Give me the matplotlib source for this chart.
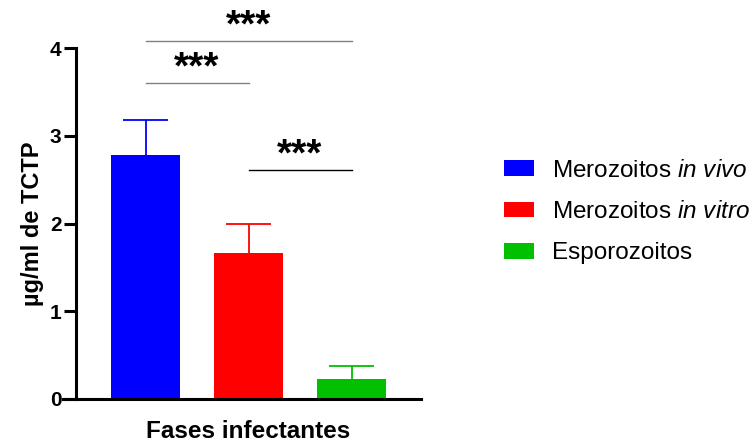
import matplotlib.pyplot as plt
from matplotlib.patches import Patch

plt.rcParams['font.family'] = ['Liberation Sans', 'DejaVu Sans']
plt.rcParams['mathtext.fontset'] = 'custom'
plt.rcParams['mathtext.rm'] = 'Liberation Sans'
plt.rcParams['mathtext.it'] = 'Liberation Sans:italic'

groups = ['Merozoitos $\\it{in\\ vivo}$', 'Merozoitos $\\it{in\\ vitro}$', 'Esporozoitos']
means = [2.78, 1.66, 0.23]
errors = [0.40, 0.34, 0.15]
colors = ['#0000FF', '#FF0000', '#00C000']

# significance brackets: (bar a, bar b, height, line colour)
comparisons = [(0, 2, 4.08, '#808080'), (0, 1, 3.60, '#808080'), (1, 2, 2.61, 'black')]
sig_label = '***'

fig = plt.figure(figsize=(7.54, 4.45), dpi=100)
ax = fig.add_axes([0.1008, 0.1034, 0.4576, 0.7881])

cap_half = 0.22
for x, (m, e, c) in enumerate(zip(means, errors, colors)):
    ax.bar(x, m, width=0.67, color=c, zorder=2)
    # upper error bar only, same colour as the bar
    ax.vlines(x, m, m + e, color=c, lw=1.3, zorder=3)
    ax.hlines(m + e, x - cap_half, x + cap_half, color=c, lw=1.3, zorder=3)

for a, b, h, col in comparisons:
    ax.plot([a, b], [h, h], color=col, lw=1.0, clip_on=False, zorder=4)
    ax.text((a + b) / 2, h + 0.05, sig_label, ha='center', va='baseline',
            fontsize=28, fontweight='bold', clip_on=False)

ax.set_ylim(0, 4)
ax.set_yticks([0, 1, 2, 3, 4])
ax.set_xticks([])
for lbl in ax.get_yticklabels():
    lbl.set_fontweight('bold')
ax.tick_params(axis='y', length=9, width=2.2, labelsize=15, pad=1.5)
ax.spines['top'].set_visible(False)
ax.spines['right'].set_visible(False)
ax.spines['left'].set_linewidth(2.2)
ax.spines['bottom'].set_linewidth(2.2)
ax.spines['bottom'].set_bounds(-0.8, 2.675)
ax.set_xlim(-0.675, 2.675)

ax.set_ylabel('µg/ml de TCTP', fontsize=17, fontweight='bold', labelpad=4)
ax.set_xlabel('Fases infectantes', fontsize=17.5, fontweight='bold', labelpad=15)

handles = [Patch(facecolor=c, edgecolor='none') for c in colors]
fig.legend(handles, groups, loc='center left', bbox_to_anchor=(0.6684, 0.5236),
           frameon=False, fontsize=17.5, handlelength=1.25, handleheight=0.6,
           handletextpad=0.72, labelspacing=0.8, borderpad=0, borderaxespad=0)

fig.savefig('out.png', dpi=100)
